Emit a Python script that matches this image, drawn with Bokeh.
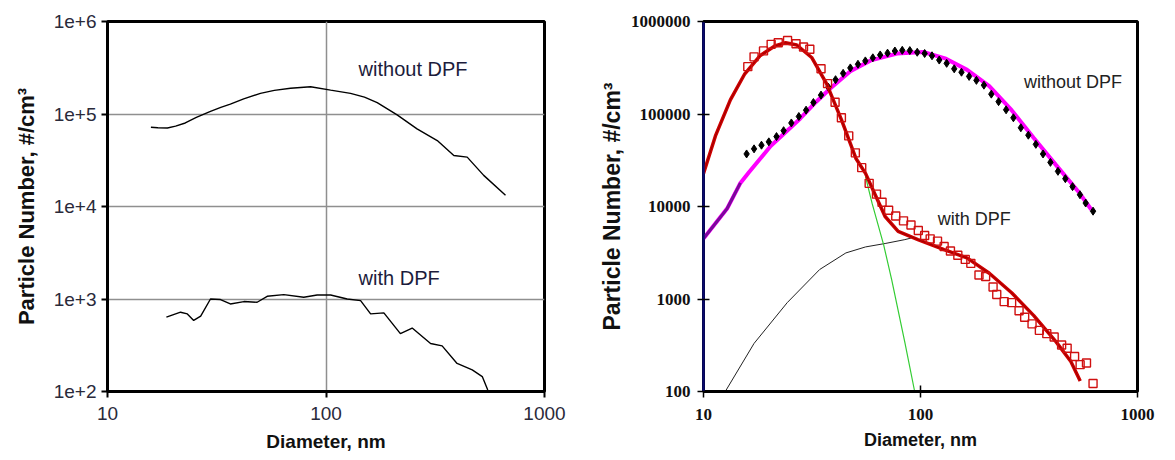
from bokeh.plotting import figure
from bokeh.layouts import row
from bokeh.models import FixedTicker, Range1d
from bokeh.embed import file_html
from bokeh.resources import INLINE
from bokeh.core.properties import value

# ---------------- data: left panel ----------------
left_without_d = [15.8, 17.0, 18.8, 20.5, 22.7, 25.5, 29.6, 33.0, 36.5, 42.0, 50.1, 58.0, 68.8, 85.0,
                  105.0, 129.5, 150.0, 171.5, 211.6, 261.0, 323.0, 384.6, 442.8, 527.0, 663.0]
left_without_n = [72000, 71000, 70600, 74000, 80000, 92000, 107000, 118000, 128000, 146000, 167000,
                  180000, 190000, 197000, 181000, 167000, 152000, 133000, 98000, 69000, 51600, 35600,
                  34200, 21700, 13200]

left_with_d = [18.6, 21.6, 23.2, 24.8, 26.7, 29.6, 32.9, 36.5, 42.1, 48.4, 53.8, 64.1, 79.1, 91.1,
               105, 125, 144, 160, 184, 219, 248, 301, 340, 398, 467, 519, 550, 630, 675]
left_with_n = [637, 720, 690, 587, 654, 1000, 986, 884, 938, 922, 1070, 1115, 1043, 1104,
               1104, 1000, 961, 690, 708, 422, 485, 330, 311, 201, 171, 145, 104, 50, 85]

left_label_text = ["without DPF", "with DPF"]
left_label_d = [141, 141]
left_label_n = [303000, 1667]

left_x_ticks = [10, 100, 1000]
left_x_labels = ["10", "100", "1000"]
left_y_ticks = [1e2, 1e3, 1e4, 1e5, 1e6]
left_y_labels = ["1e+2", "1e+3", "1e+4", "1e+5", "1e+6"]

# ---------------- data: right panel ----------------
with_sq_d = [16.0, 17.1, 18.9, 20.5, 22.1, 24.4, 26.7, 28.9, 30.9, 34.8, 37.3, 40.4, 43.2, 46.7, 50.1,
             53.6, 58.0, 62.7, 66.5, 71.3, 76.9, 83.5, 90.4, 97.7, 104.5, 110.8, 119.8, 128.5, 137.4,
             148.6, 160.8, 170.6, 186.0, 199.6, 216, 224.6, 243, 263, 284.6, 302, 326.6, 353, 382,
             413, 447, 474, 513, 544, 582, 624]
with_sq_n = [325000, 415000, 481000, 566000, 589000, 624000, 575000, 530000, 501000, 308000, 213000,
             134000, 91000, 58000, 38000, 26300, 17800, 13600, 11100, 9100, 7900, 7000, 6300, 5500,
             4850, 4470, 4220, 3700, 3300, 2970, 2680, 2430, 1820, 1750, 1350, 1120, 937, 914, 746,
             634, 539, 458, 422, 389, 318, 293, 239, 195, 203, 122]

without_dm_d = [15.8, 17.1, 18.5, 20.0, 21.7, 23.4, 25.4, 27.5, 29.7, 32.1, 34.8, 37.6, 40.6, 44.0,
                47.5, 51.5, 55.7, 60.3, 65.2, 70.5, 76.2, 82.4, 89.3, 96.6, 104.5, 113, 122, 132, 143,
                154.5, 167.5, 181, 196, 212, 229, 248, 268, 290, 314, 340, 367, 397, 430, 465, 502,
                543, 577, 624]
without_dm_n = [37000, 42000, 46000, 50000, 57000, 66000, 80000, 94000, 110000, 133000, 160000, 195000,
                235000, 275000, 315000, 345000, 375000, 405000, 435000, 455000, 480000, 488000, 485000,
                465000, 451000, 426000, 383000, 353000, 308000, 283000, 255000, 231000, 205000, 164000,
                136000, 111000, 91000, 71000, 59000, 47000, 37000, 30000, 24000, 20000, 16400, 13400,
                10900, 8900]

without_fit_d = [10, 12.85, 14.8, 16.2, 20.4, 25.0, 28.0, 33.0, 38.5, 47.5, 59.0, 78.0, 103, 129.7,
                 164, 207.5, 263, 332.7, 421.7, 533.3, 612]
without_fit_n = [4500, 9500, 18000, 23500, 45000, 70000, 90000, 135000, 190000, 290000, 380000,
                 450000, 468000, 400000, 300000, 200000, 110000, 55000, 28000, 14550, 9290]

with_fit_d = [10, 11.35, 13.3, 15.5, 18.2, 21.3, 23.9, 26.9, 31.5, 36.9, 43.2, 50.5, 55.8, 61.9, 68.7,
              78.9, 97.3, 128.5, 163.7, 207.5, 263, 332.7, 421.7, 493, 544.5]
with_fit_n = [22750, 57940, 141900, 272300, 425600, 543300, 588800, 557200, 408300, 213300, 87100,
              32810, 22800, 13340, 7800, 5380, 4390, 3420, 2780, 1900, 1167, 661, 344, 211, 130]

accum_d = [12.6, 17.1, 24.3, 34.3, 45.3, 55.8, 68.7, 84.7, 90.8]
accum_n = [100, 331, 912, 2084, 3148, 3656, 3981, 4385, 4571]

nucl_d = [55.8, 59.8, 67.6, 73.6, 84.7, 94.0]
nucl_n = [21040, 10860, 3873, 1626, 339, 100]

right_label_text = ["without DPF", "with DPF"]
right_label_d = [300, 120]
right_label_n = [222000, 7300]

right_x_ticks = [10, 100, 1000]
right_x_labels = ["10", "100", "1000"]
right_y_ticks = [1e2, 1e3, 1e4, 1e5, 1e6]
right_y_labels = ["100", "1000", "10000", "100000", "1000000"]

SANS = "Liberation Sans"
SERIF = "Liberation Serif"

# ---------------- left figure ----------------
p1 = figure(width=580, height=460, x_axis_type="log", y_axis_type="log",
            x_range=Range1d(10, 1000), y_range=Range1d(100, 1e6),
            output_backend="svg", toolbar_location=None,
            min_border_left=107, min_border_right=36, min_border_top=21, min_border_bottom=69)
p1.outline_line_color = "black"
p1.outline_line_width = 3

p1.xaxis.ticker = FixedTicker(ticks=left_x_ticks, minor_ticks=[])
p1.yaxis.ticker = FixedTicker(ticks=left_y_ticks, minor_ticks=[])
p1.xaxis.major_label_overrides = {t: l for t, l in zip(left_x_ticks, left_x_labels)}
p1.yaxis.major_label_overrides = {t: l for t, l in zip(left_y_ticks, left_y_labels)}
p1.xgrid.ticker = FixedTicker(ticks=left_x_ticks)
p1.ygrid.ticker = FixedTicker(ticks=left_y_ticks)
for g in (p1.xgrid, p1.ygrid):
    g.grid_line_color = "#8f8f8f"
    g.grid_line_width = 1.5
for ax in (p1.xaxis, p1.yaxis):
    ax.axis_line_color = "black"
    ax.axis_line_width = 3
    ax.major_tick_line_color = "black"
    ax.major_tick_line_width = 2
    ax.major_tick_in = 0
    ax.major_tick_out = 6
    ax.minor_tick_line_color = None
    ax.major_label_text_font = SANS
    ax.major_label_text_font_size = "19px"
    ax.major_label_text_color = "#2a2a3a"
    ax.axis_label_text_font = SANS
    ax.axis_label_text_font_style = "bold"
    ax.axis_label_text_color = "#111111"
p1.xaxis.axis_label_text_font_size = "19px"
p1.yaxis.axis_label_text_font_size = "22px"
p1.xaxis.major_label_standoff = 9
p1.xaxis.axis_label_standoff = 8
p1.yaxis.major_label_standoff = 5
p1.yaxis.axis_label_standoff = 12
p1.xaxis.axis_label = "Diameter, nm"
p1.yaxis.axis_label = "Particle Number, #/cm³"

p1.line(left_without_d, left_without_n, line_color="black", line_width=1.4)
p1.line(left_with_d, left_with_n, line_color="black", line_width=1.4)
p1.text(left_label_d, left_label_n, text=left_label_text, text_font=value(SANS),
        text_font_size="20px", text_color="#1c1c3c", text_baseline="middle", text_align="left")

# ---------------- right figure ----------------
p2 = figure(width=595, height=460, x_axis_type="log", y_axis_type="log",
            x_range=Range1d(10, 1000), y_range=Range1d(100, 1e6),
            output_backend="svg", toolbar_location=None,
            min_border_left=123, min_border_right=38, min_border_top=17, min_border_bottom=67)
p2.outline_line_color = "black"
p2.outline_line_width = 3
p2.xgrid.grid_line_color = None
p2.ygrid.grid_line_color = None
p2.xaxis.ticker = FixedTicker(ticks=right_x_ticks, minor_ticks=[])
p2.yaxis.ticker = FixedTicker(ticks=right_y_ticks, minor_ticks=[])
p2.xaxis.major_label_overrides = {t: l for t, l in zip(right_x_ticks, right_x_labels)}
p2.yaxis.major_label_overrides = {t: l for t, l in zip(right_y_ticks, right_y_labels)}
for ax in (p2.xaxis, p2.yaxis):
    ax.major_tick_line_color = "black"
    ax.major_tick_line_width = 1.5
    ax.major_tick_in = 6
    ax.major_tick_out = 6
    ax.minor_tick_line_color = None
    ax.major_label_text_font = SERIF
    ax.major_label_text_font_style = "bold"
    ax.major_label_text_font_size = "17px"
    ax.major_label_text_color = "#111111"
    ax.axis_label_text_font = SANS
    ax.axis_label_text_font_style = "bold"
    ax.axis_label_text_color = "#111111"
p2.xaxis.axis_line_color = "black"
p2.xaxis.axis_line_width = 3
p2.yaxis.axis_line_color = "#0a0a70"
p2.yaxis.axis_line_width = 2.5
p2.xaxis.major_label_standoff = 11
p2.xaxis.axis_label_standoff = 7
p2.xaxis.axis_label_text_font_size = "18px"
p2.yaxis.major_label_standoff = 7
p2.yaxis.axis_label_standoff = 3
p2.yaxis.axis_label_text_font_size = "23px"
p2.xaxis.axis_label = "Diameter, nm"
p2.yaxis.axis_label = "Particle Number, #/cm³"

p2.line(without_fit_d, without_fit_n, line_color="#ff00ff", line_width=4)
p2.line(without_fit_d[:3], without_fit_n[:3], line_color="#7a0a9a", line_width=3)
p2.scatter(without_dm_d, without_dm_n, marker="diamond", size=8, fill_color="black",
           line_color="black")
p2.line(accum_d, accum_n, line_color="#222222", line_width=1)
p2.line(nucl_d, nucl_n, line_color="#33cc33", line_width=1.2)
p2.line(with_fit_d, with_fit_n, line_color="#d00000", line_width=3.5)
p2.line(with_fit_d, with_fit_n, line_color="#7a0000", line_width=1, line_alpha=0.6)
p2.scatter(with_sq_d, with_sq_n, marker="square", size=8, fill_alpha=0,
           line_color="#d01010", line_width=1.4)
p2.text(right_label_d, right_label_n, text=right_label_text, text_font=value(SANS),
        text_font_size="18px", text_color="#222222", text_baseline="middle", text_align="left")

layout = row(p1, p2)
open("out.html", "w").write(file_html(layout, INLINE))
